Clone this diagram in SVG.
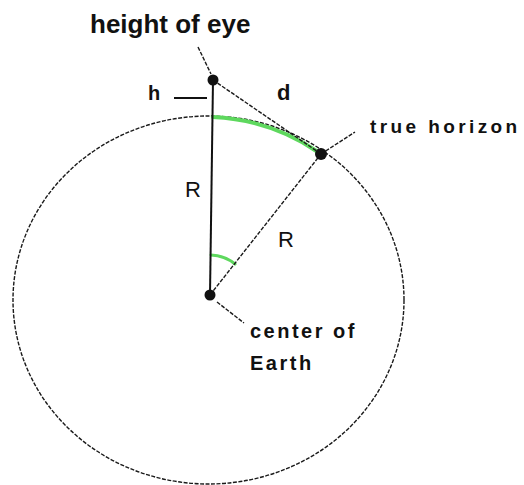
<svg xmlns="http://www.w3.org/2000/svg" width="524" height="485" viewBox="0 0 524 485">
<style>
.dash{fill:none;stroke:#1a1a1a;stroke-width:1.4;stroke-dasharray:4 1.5}
.solid{fill:none;stroke:#111;stroke-width:2}
.green{fill:none;stroke:#5ed85e;stroke-linecap:round}
.lbl{font-family:"Liberation Sans",Arial,sans-serif;fill:#111}
.b{font-weight:bold}
.dot{fill:#111}
</style>
<rect width="524" height="485" fill="#fff"/>
<g id="earth">
<ellipse class="dash" cx="208.5" cy="300" rx="195.5" ry="184"/>
</g>
<g id="connectors">
<path class="green" stroke-width="4" d="M213,117 A195.5,184 0 0,1 318,152"/>
<path class="green" stroke-width="3" d="M211,255 A40,40 0 0,1 235,264"/>
<line class="solid" x1="213" y1="80" x2="210" y2="295"/>
<line class="solid" x1="174" y1="98" x2="207" y2="98"/>
<line class="dash" x1="213" y1="80" x2="321" y2="154"/>
<line class="dash" x1="210" y1="295" x2="321" y2="154"/>
<line class="dash" x1="321" y1="154" x2="355" y2="132"/>
<line class="dash" x1="198" y1="47" x2="211" y2="74"/>
<line class="dash" x1="217" y1="302" x2="244" y2="323"/>
</g>
<g id="eye">
<circle class="dot" cx="213" cy="80" r="5.5"/>
<text class="lbl b" x="90" y="33" font-size="26">height of eye</text>
</g>
<g id="horizon">
<circle class="dot" cx="321" cy="154" r="6"/>
<text class="lbl b" x="370" y="133" font-size="19" letter-spacing="3.4">true horizon</text>
</g>
<g id="center">
<circle class="dot" cx="210" cy="295" r="5.5"/>
<text class="lbl b" x="250" y="338" font-size="20" letter-spacing="2.5">center of</text>
<text class="lbl b" x="250" y="370" font-size="20" letter-spacing="2.5">Earth</text>
</g>
<g id="labels">
<text class="lbl b" x="148" y="100" font-size="20">h</text>
<text class="lbl b" x="277" y="100" font-size="22">d</text>
<text class="lbl" x="185" y="197" font-size="22">R</text>
<text class="lbl" x="278" y="247" font-size="22">R</text>
</g>
</svg>
